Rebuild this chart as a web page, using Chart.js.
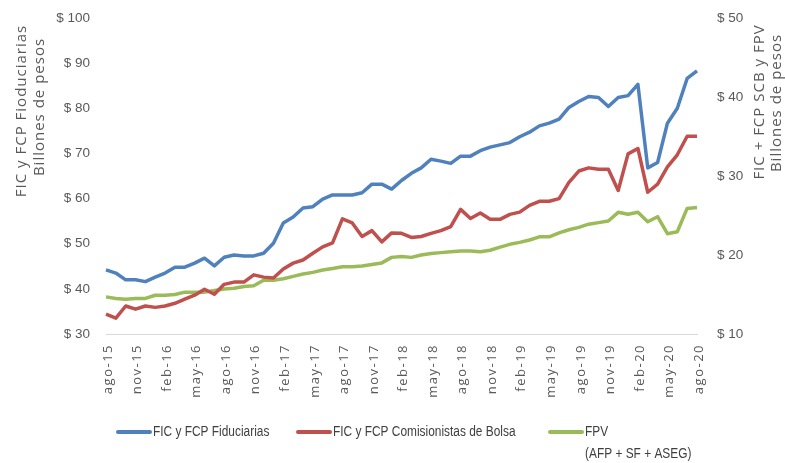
<!DOCTYPE html>
<html><head><meta charset="utf-8">
<script src="https://cdn.jsdelivr.net/npm/chart.js@4.4.1/dist/chart.umd.min.js"></script>
<style>html,body{margin:0;padding:0;background:#fff;}#wrap{width:785px;height:463px;position:relative;}</style>
</head><body><div id="wrap"><canvas id="c" width="785" height="463"></canvas></div>
<script>
const months = ["ago-15","sep-15","oct-15","nov-15","dic-15","ene-16","feb-16","mar-16","abr-16","may-16","jun-16","jul-16",
"ago-16","sep-16","oct-16","nov-16","dic-16","ene-17","feb-17","mar-17","abr-17","may-17","jun-17","jul-17",
"ago-17","sep-17","oct-17","nov-17","dic-17","ene-18","feb-18","mar-18","abr-18","may-18","jun-18","jul-18",
"ago-18","sep-18","oct-18","nov-18","dic-18","ene-19","feb-19","mar-19","abr-19","may-19","jun-19","jul-19",
"ago-19","sep-19","oct-19","nov-19","dic-19","ene-20","feb-20","mar-20","abr-20","may-20","jun-20","jul-20","ago-20"];
const fiduciarias = [44.2,43.5,42.0,42.0,41.6,42.6,43.5,44.8,44.8,45.7,46.8,45.1,
47.0,47.5,47.3,47.3,47.9,50.1,54.6,55.9,57.9,58.2,59.9,60.8,
60.8,60.8,61.3,63.2,63.2,62.1,64.0,65.6,66.8,68.7,68.3,67.8,
69.4,69.4,70.6,71.4,71.9,72.4,73.7,74.7,76.1,76.7,77.6,80.2,
81.5,82.6,82.4,80.4,82.4,82.8,85.3,66.8,68.0,76.7,80.0,86.6,88.3];
const comisionistas = [34.4,33.5,36.2,35.5,36.2,35.9,36.2,36.8,37.7,38.6,39.9,38.8,
41.0,41.5,41.5,43.1,42.6,42.4,44.4,45.7,46.4,47.9,49.3,50.2,
55.5,54.6,51.6,52.9,50.4,52.4,52.3,51.4,51.6,52.3,52.9,53.8,
57.6,55.6,56.8,55.4,55.4,56.5,57.0,58.5,59.4,59.4,60.0,63.6,
66.1,66.8,66.5,66.5,61.8,69.9,71.1,61.4,63.2,67.0,69.7,73.8,73.8];
const fpv = [14.7,14.5,14.4,14.5,14.5,14.9,14.9,15.0,15.3,15.3,15.3,15.5,
15.7,15.8,16.0,16.1,16.8,16.8,17.0,17.3,17.6,17.8,18.1,18.3,
18.5,18.5,18.6,18.8,19.0,19.7,19.8,19.7,20.0,20.2,20.3,20.4,
20.5,20.5,20.4,20.6,21.0,21.35,21.6,21.9,22.3,22.3,22.8,23.2,
23.5,23.9,24.1,24.3,25.4,25.15,25.4,24.2,24.85,22.7,22.95,25.9,26.0];
const seriesNames = ["FIC y FCP Fiduciarias","FIC y FCP Comisionistas de Bolsa","FPV"];
const fpvSubtitle = "(AFP + SF + ASEG)";
const leftTitle = ["FIC y FCP Fioduciarias","Billones de pesos"];
const rightTitle = ["FIC + FCP SCB y FPV","Billones de pesos"];
const leftRange = [30,100,10];
const rightRange = [10,50,10];

const colors = ['#4F81BD','#C0504D','#9BBB59'];
const textGray = '#595959';
const sans = '"Liberation Sans",sans-serif';

const extras = {
  id:'extras',
  afterLayout(chart){
    const sx = chart.scales.x;
    if (sx && !sx._patched){
      const orig = sx.drawLabels;
      sx.drawLabels = function(area){
        const c=this.ctx; c.save(); c.letterSpacing='1.5px'; orig.call(this,area); c.restore();
      };
      sx._patched = true;
    }
  },
  afterDraw(chart){
    const ctx = chart.ctx;
    ctx.save();
    ctx.fillStyle = textGray;
    ctx.font = '15px "Open Sans"';
    ctx.letterSpacing = '1px';
    ctx.textAlign='center'; ctx.textBaseline='middle';
    const vtext=(t,x,y)=>{ctx.save();ctx.translate(x,y);ctx.rotate(-Math.PI/2);ctx.fillText(t,0,0);ctx.restore();};
    vtext(leftTitle[0],22,111); vtext(leftTitle[1],40,107);
    vtext(rightTitle[0],760,102); vtext(rightTitle[1],777,103);
    ctx.letterSpacing = '0px';
    const items=[{x:118,label:seriesNames[0]},{x:298,label:seriesNames[1]},{x:550,label:seriesNames[2]}];
    ctx.font='14px '+sans; ctx.textAlign='left'; ctx.fillStyle='#404040';
    const htext=(t,x,y)=>{ctx.save();ctx.translate(x,y);ctx.scale(0.85,1);ctx.fillText(t,0,0);ctx.restore();};
    items.forEach((it,i)=>{
      ctx.strokeStyle=colors[i]; ctx.lineWidth=4; ctx.lineCap='round';
      ctx.beginPath(); ctx.moveTo(it.x,432); ctx.lineTo(it.x+32,432); ctx.stroke();
      htext(it.label,it.x+35,432);
    });
    htext(fpvSubtitle,585,454);
    ctx.restore();
  }
};

const mk=(label,data,i,axis)=>({label,data,yAxisID:axis,borderColor:colors[i],backgroundColor:colors[i],borderWidth:3.5,pointRadius:0,tension:0,fill:false,borderJoinStyle:'round'});

new Chart(document.getElementById('c'),{
  type:'line',
  data:{labels:months,datasets:[
    mk(seriesNames[0],fiduciarias,0,'y'),
    mk(seriesNames[1],comisionistas,1,'y'),
    mk(seriesNames[2],fpv,2,'y2')
  ]},
  options:{
    responsive:false,animation:false,devicePixelRatio:1,
    layout:{padding:{top:18,bottom:0,left:0,right:0}},
    plugins:{legend:{display:false},tooltip:{enabled:false}},
    scales:{
      x:{offset:false,grid:{display:false,drawTicks:false},border:{display:true,color:'#d9d9d9',width:1},
        ticks:{autoSkip:false,maxRotation:90,minRotation:90,padding:10,labelOffset:2,color:textGray,font:{family:'"Open Sans"',size:13},
          callback:function(v,i){return i%3===0?months[i]:'';}},
        afterFit:s=>{s.height=129;s.paddingLeft=0;s.paddingRight=0;s.paddingTop=0;s.paddingBottom=0;}},
      y:{position:'left',min:leftRange[0],max:leftRange[1],grid:{display:false,drawTicks:false},border:{display:false},
        ticks:{stepSize:leftRange[2],padding:16,color:textGray,font:{family:sans,size:13.5},callback:v=>'$ '+v},
        afterFit:s=>{s.width=106;s.paddingTop=0;s.paddingBottom=0;}},
      y2:{position:'right',min:rightRange[0],max:rightRange[1],grid:{display:false,drawTicks:false},border:{display:false},
        ticks:{stepSize:rightRange[2],padding:20,color:textGray,font:{family:sans,size:13.5},callback:v=>'$ '+v},
        afterFit:s=>{s.width=88;s.paddingTop=0;s.paddingBottom=0;}}
    }
  },
  plugins:[extras]
});
</script></body></html>
